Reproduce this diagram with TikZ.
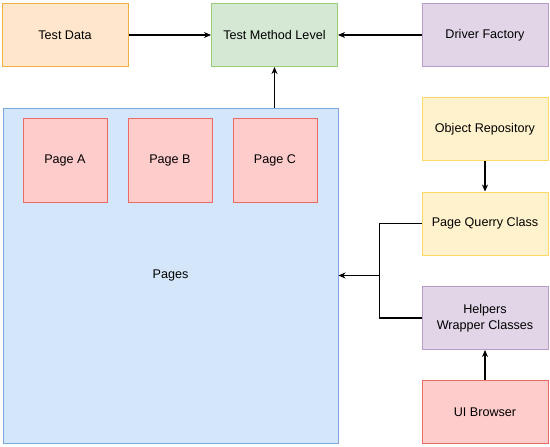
\documentclass[tikz,border=0pt]{standalone}
\usepackage{fontspec}
\setmainfont{Liberation Sans}
\usetikzlibrary{arrows.meta}
\definecolor{orangefill}{HTML}{FFE6CC}
\definecolor{orangeline}{HTML}{F0B040}
\definecolor{greenfill}{HTML}{D5E8D4}
\definecolor{greenline}{HTML}{97D077}
\definecolor{purplefill}{HTML}{E1D5E7}
\definecolor{purpleline}{HTML}{B79BC9}
\definecolor{bluefill}{HTML}{D4E6FA}
\definecolor{blueline}{HTML}{7EA6E0}
\definecolor{yellowfill}{HTML}{FFF2CC}
\definecolor{yellowline}{HTML}{FFD966}
\definecolor{redfill}{HTML}{FFCCCC}
\definecolor{redline}{HTML}{EA6B66}

\begin{document}
\begin{tikzpicture}[x=1pt,y=-1pt,
  box/.style={draw,line width=1pt,minimum width=126pt,minimum height=63pt,
    align=center,font=\fontsize{12.6}{15.5}\selectfont,inner sep=0pt},
  pagebox/.style={box,minimum width=84pt,minimum height=84pt},
  flow/.style={line width=1.2pt,-{Stealth[length=7pt,width=6pt]}}]
\useasboundingbox (0,0) rectangle (550,447);
\node[box,fill=orangefill,draw=orangeline] (data) at (65,35) {Test Data};
\node[box,fill=greenfill,draw=greenline] (method) at (274.5,35) {Test Method Level};
\node[box,fill=purplefill,draw=purpleline] (factory) at (485,35) {Driver Factory};
\node[box,fill=bluefill,draw=blueline,minimum width=335pt,minimum height=335pt] (pages) at (170.5,275.5) {Pages};
\node[pagebox,fill=redfill,draw=redline] (pagea) at (65,160) {Page A};
\node[pagebox,fill=redfill,draw=redline] (pageb) at (170,160) {Page B};
\node[pagebox,fill=redfill,draw=redline] (pagec) at (275,160) {Page C};
\node[box,fill=yellowfill,draw=yellowline] (repo) at (485,129) {Object Repository};
\node[box,fill=yellowfill,draw=yellowline] (query) at (485,223.5) {Page Querry Class};
\node[box,fill=purplefill,draw=purpleline] (helpers) at (485,318) {Helpers\\Wrapper Classes};
\node[box,fill=redfill,draw=redline] (browser) at (485,412) {UI Browser};
\draw[flow] (data) -- (method);
\draw[flow] (factory) -- (method);
\draw[flow] (pages.north -| method) -- (method);
\draw[flow] (repo) -- (query);
\draw[flow] (browser) -- (helpers);
\draw[line width=1.2pt] (query.west) -- ++(-42,0) |- (pages.east);
\draw[flow] (helpers.west) -- ++(-42,0) |- (pages.east);
\end{tikzpicture}
\end{document}
